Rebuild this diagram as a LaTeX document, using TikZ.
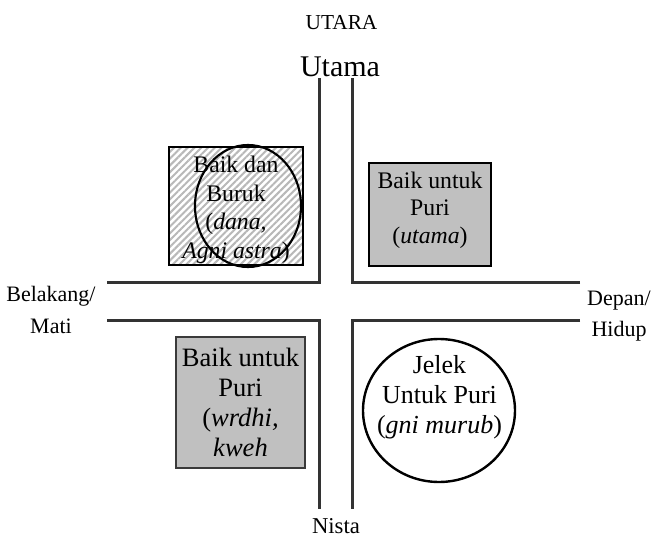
\documentclass[tikz,border=0pt]{standalone}
\usepackage{fontspec}
\setmainfont{Liberation Serif}
\usetikzlibrary{shapes.geometric,patterns.meta}
\definecolor{roadc}{HTML}{333333}
\definecolor{boxgray}{HTML}{C0C0C0}
\definecolor{boxline}{HTML}{3A3A3A}
\begin{document}
\begin{tikzpicture}[x=0.75pt,y=-0.75pt,
  roadline/.style={draw=roadc,line width=2.6pt,line join=miter},
  hatchbox/.style={draw=black,line width=0.8pt,rectangle,inner sep=0pt,
    pattern={Lines[angle=45,distance=3.6pt,line width=1.5pt]},pattern color=black!28},
  graybox/.style={rectangle,inner sep=0pt,fill=boxgray},
  oval/.style={draw=black,ellipse,inner sep=0pt},
  txt/.style={align=center,inner sep=0pt},
  lbl/.style={align=center,inner sep=0pt,font=\fontsize{16.5}{23.5}\selectfont}]
\useasboundingbox (0,0) rectangle (654,539);
\fill[white] (0,0) rectangle (654,539);

% roads
\draw[roadline] (107,282.5) -- (319.5,282.5) -- (319.5,78);
\draw[roadline] (580,282.5) -- (352.5,282.5) -- (352.5,78);
\draw[roadline] (107,320.5) -- (319.5,320.5) -- (319.5,509);
\draw[roadline] (580,320.5) -- (352.5,320.5) -- (352.5,509);

% top labels
\node[inner sep=0pt,anchor=base,font=\fontsize{16}{19}\selectfont] (utara) at (341.5,29) {UTARA};
\node[inner sep=0pt,anchor=base,font=\fontsize{22.5}{26}\selectfont] (utama) at (340,76) {Utama};
\node[inner sep=0pt,anchor=base,font=\fontsize{17}{20}\selectfont] (nista) at (336,533) {Nista};
\node[lbl] (belakang) at (51,310) {Belakang/\\Mati};
\node[lbl] (depan) at (619,316) {Depan/\\Hidup};

% top-left hatched box with ellipse
\node[hatchbox,minimum width=100.5pt,minimum height=88.5pt] (hb) at (236,206) {};
\node[oval,line width=1.6pt,minimum width=79.5pt,minimum height=91.5pt] (hbe) at (248,206) {};
\node[txt,font=\fontsize{17.8}{21.4}\selectfont] (hbt) at (236,210)
  {Baik dan\\Buruk\\(\textit{dana,}\\\textit{Agni astra})};

% top-right box
\node[graybox,draw=black,line width=1.5pt,minimum width=91.5pt,minimum height=77.25pt] (trb) at (430,214.5) {};
\node[txt,font=\fontsize{17.8}{20.6}\selectfont] (trt) at (430,210)
  {Baik untuk\\Puri\\(\textit{utama})};

% bottom-left box
\node[graybox,draw=boxline,line width=2.2pt,minimum width=96.75pt,minimum height=98.25pt,
  txt,font=\fontsize{19.9}{22.5}\selectfont] (blb) at (240.5,402.5)
  {Baik untuk\\Puri\\(\textit{wrdhi,}\\\textit{kweh}};

% bottom-right circle
\node[oval,line width=1.8pt,minimum width=114pt,minimum height=107.25pt] (brc) at (439,410.5) {};
\node[txt,font=\fontsize{19.5}{22.5}\selectfont] (brt) at (439.5,397.5)
  {Jelek\\Untuk Puri\\(\textit{gni murub})};
\end{tikzpicture}
\end{document}
